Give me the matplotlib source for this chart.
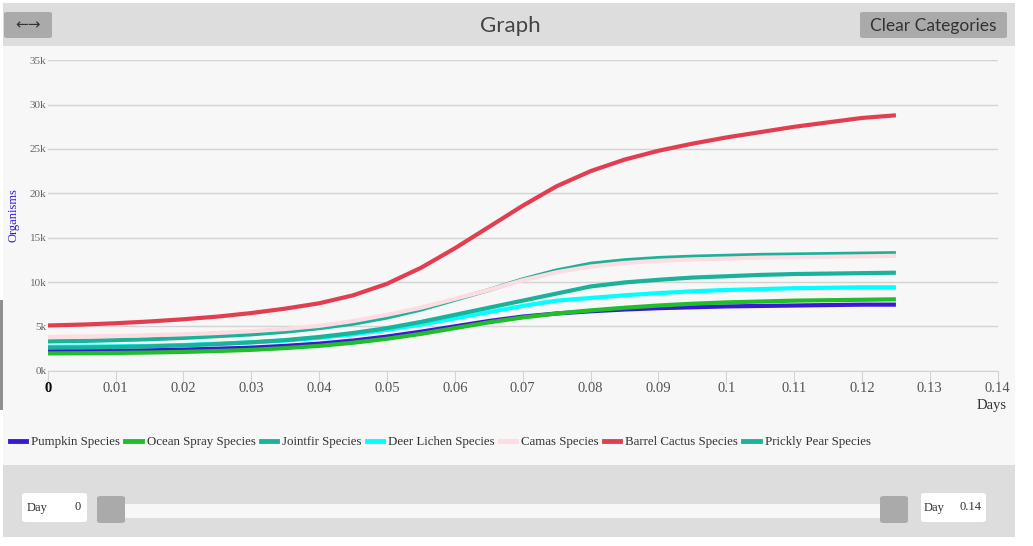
import matplotlib
matplotlib.use('Agg')
import matplotlib.pyplot as plt
from matplotlib.patches import FancyBboxPatch, Rectangle
from matplotlib.lines import Line2D

# dias simulados
dias = [0, .005, .01, .015, .02, .025, .03, .035, .04, .045, .05, .055, .06,
        .065, .07, .075, .08, .085, .09, .095, .1, .105, .11, .115, .12, .125]

# organismos (miles) por especie
pumpkin = [2.2, 2.22, 2.25, 2.3, 2.38, 2.48, 2.6, 2.8, 3.05, 3.4, 3.85, 4.4, 5.0,
           5.6, 6.1, 6.45, 6.7, 6.9, 7.05, 7.15, 7.25, 7.3, 7.35, 7.4, 7.45, 7.45]
ocean_spray = [1.95, 1.97, 2.0, 2.05, 2.12, 2.22, 2.35, 2.55, 2.8, 3.15, 3.6, 4.15, 4.8,
               5.45, 6.0, 6.45, 6.8, 7.1, 7.35, 7.55, 7.7, 7.8, 7.9, 7.95, 8.0, 8.05]
jointfir = [3.3, 3.35, 3.45, 3.55, 3.7, 3.9, 4.1, 4.4, 4.8, 5.3, 6.0, 6.9, 8.0,
            9.1, 10.3, 11.3, 12.05, 12.45, 12.7, 12.85, 12.95, 13.05, 13.1, 13.15, 13.2, 13.25]
deer_lichen = [2.7, 2.72, 2.75, 2.8, 2.9, 3.05, 3.2, 3.4, 3.7, 4.1, 4.6, 5.2, 5.9,
               6.6, 7.3, 7.9, 8.2, 8.5, 8.75, 8.95, 9.1, 9.2, 9.3, 9.35, 9.4, 9.4]
camas = [3.8, 3.85, 3.9, 4.0, 4.1, 4.25, 4.45, 4.7, 5.05, 5.6, 6.3, 7.1, 8.1,
         9.1, 10.2, 11.1, 11.75, 12.15, 12.4, 12.55, 12.65, 12.75, 12.8, 12.85, 12.9, 12.95]
barrel_cactus = [5.1, 5.2, 5.35, 5.55, 5.8, 6.1, 6.5, 7.0, 7.6, 8.5, 9.8, 11.6, 13.8,
                 16.2, 18.6, 20.8, 22.5, 23.8, 24.8, 25.6, 26.3, 26.9, 27.5, 28.0, 28.5, 28.8]
prickly_pear = [2.6, 2.62, 2.67, 2.75, 2.85, 3.0, 3.2, 3.45, 3.8, 4.25, 4.8, 5.5, 6.3,
                7.1, 7.9, 8.7, 9.5, 9.95, 10.25, 10.5, 10.65, 10.8, 10.9, 10.95, 11.0, 11.05]

especies = ['Pumpkin Species', 'Ocean Spray Species', 'Jointfir Species',
            'Deer Lichen Species', 'Camas Species', 'Barrel Cactus Species',
            'Prickly Pear Species']
series = [pumpkin, ocean_spray, jointfir, deer_lichen, camas, barrel_cactus, prickly_pear]
colores = ['#3b17d8', '#1fbf2a', '#1ab39a', '#00ffff', '#ffdbe2', '#e33d52', '#1ab39a']

xticks = [0, 0.01, 0.02, 0.03, 0.04, 0.05, 0.06, 0.07, 0.08, 0.09, 0.1, 0.11, 0.12, 0.13, 0.14]
xlabels = ['0', '0.01', '0.02', '0.03', '0.04', '0.05', '0.06', '0.07', '0.08', '0.09',
           '0.1', '0.11', '0.12', '0.13', '0.14']
yticks = [0, 5000, 10000, 15000, 20000, 25000, 30000, 35000]
ylabels = ['0k', '5k', '10k', '15k', '20k', '25k', '30k', '35k']

W, H = 1033, 546
SERIF = 'Liberation Serif'
SANS = 'Lato'

fig = plt.figure(figsize=(W / 100, H / 100), dpi=100)
fig.patch.set_facecolor('white')


def caja(x0, y0, x1, y1, color, radio=0, z=-10):
    # rectangulo en pixeles (y desde arriba)
    if radio:
        p = FancyBboxPatch((x0 / W, 1 - y1 / H), (x1 - x0) / W, (y1 - y0) / H,
                           boxstyle='round,pad=0,rounding_size=%f' % (radio / W),
                           transform=fig.transFigure, facecolor=color,
                           edgecolor='none', zorder=z)
    else:
        p = Rectangle((x0 / W, 1 - y1 / H), (x1 - x0) / W, (y1 - y0) / H,
                      transform=fig.transFigure, facecolor=color,
                      edgecolor='none', zorder=z)
    fig.patches.append(p)


def texto(x, y, s, **kw):
    fig.text(x / W, 1 - y / H, s, **kw)


# fondos
caja(3, 3, 1015, 46, '#dddddd')
caja(3, 46, 1015, 465, '#f7f7f7')
caja(3, 465, 1015, 537, '#dddddd')
caja(0, 300, 3, 410, '#8f8f8f')

# cabecera
caja(4, 12, 52, 38, '#aaaaaa', radio=3, z=-5)
texto(28, 25, '\u2190\u2192', ha='center', va='center', fontsize=11,
      color='#333333', family='DejaVu Sans')
texto(510, 26, 'Graph', ha='center', va='center', fontsize=16,
      color='#444444', family=SANS)
caja(860, 12, 1007, 38, '#aaaaaa', radio=3, z=-5)
texto(933, 26, 'Clear Categories', ha='center', va='center', fontsize=12.5,
      color='#333333', family=SANS)

# grafico
ax = fig.add_axes([47.7 / W, 1 - 370.7 / H, 950 / W, 310.4 / H])
ax.set_zorder(5)
ax.set_facecolor('none')
for nombre, datos, color in zip(especies, series, colores):
    ax.plot(dias, [v * 1000 for v in datos], color=color, lw=3.0,
            label=nombre, solid_capstyle='butt', solid_joinstyle='round')

ax.set_xlim(0, 0.14)
ax.set_ylim(0, 35000)
ax.set_xticks(xticks)
ax.set_xticklabels(xlabels, family=SERIF, fontsize=10.5, color='#555555')
ax.get_xticklabels()[0].set_color('black')
ax.get_xticklabels()[0].set_fontweight('bold')
ax.set_yticks(yticks)
ax.set_yticklabels(ylabels, family=SERIF, fontsize=8, color='#666666')
ax.tick_params(axis='x', length=9, width=0.8, color='#d3d3d3', pad=-1)
ax.tick_params(axis='y', length=0, pad=1)
ax.grid(axis='y', color='#d3d3d3', lw=1)
for lado in ['top', 'right', 'left']:
    ax.spines[lado].set_visible(False)
ax.spines['bottom'].set_color('#d3d3d3')
ax.set_axisbelow(True)

texto(992, 405, 'Days', ha='center', va='center', fontsize=10.5,
      color='#333333', family=SERIF)
texto(14, 215, 'Organisms', ha='center', va='center', fontsize=9,
      color='#3b17d8', family=SERIF, rotation=90)

# leyenda
handles = [Line2D([], [], color=c, lw=3.5) for c in colores]
fig.legend(handles, especies, loc='center left', bbox_to_anchor=(10 / W, 1 - 442 / H),
           ncol=7, frameon=False, handlelength=1.25, handletextpad=0.4,
           columnspacing=0.4, borderaxespad=0, borderpad=0,
           prop={'family': SERIF, 'size': 9.3}, labelcolor='#333333')

# control deslizante
caja(22, 493, 87, 522, 'white', radio=4, z=-5)
texto(27, 508, 'Day', ha='left', va='center', fontsize=9, color='#333333', family=SERIF)
texto(81, 507, '0', ha='right', va='center', fontsize=9, color='#333333', family=SERIF)
caja(125, 504, 882, 518, '#f7f7f7', z=-5)
caja(97, 496, 125, 523, '#aaaaaa', radio=4, z=-4)
caja(880, 496, 908, 523, '#aaaaaa', radio=4, z=-4)
caja(921, 493, 986, 522, 'white', radio=4, z=-5)
texto(924, 508, 'Day', ha='left', va='center', fontsize=9, color='#333333', family=SERIF)
texto(982, 507, '0.14', ha='right', va='center', fontsize=9, color='#333333', family=SERIF)

fig.savefig('out.png', dpi=100, facecolor=fig.get_facecolor())
